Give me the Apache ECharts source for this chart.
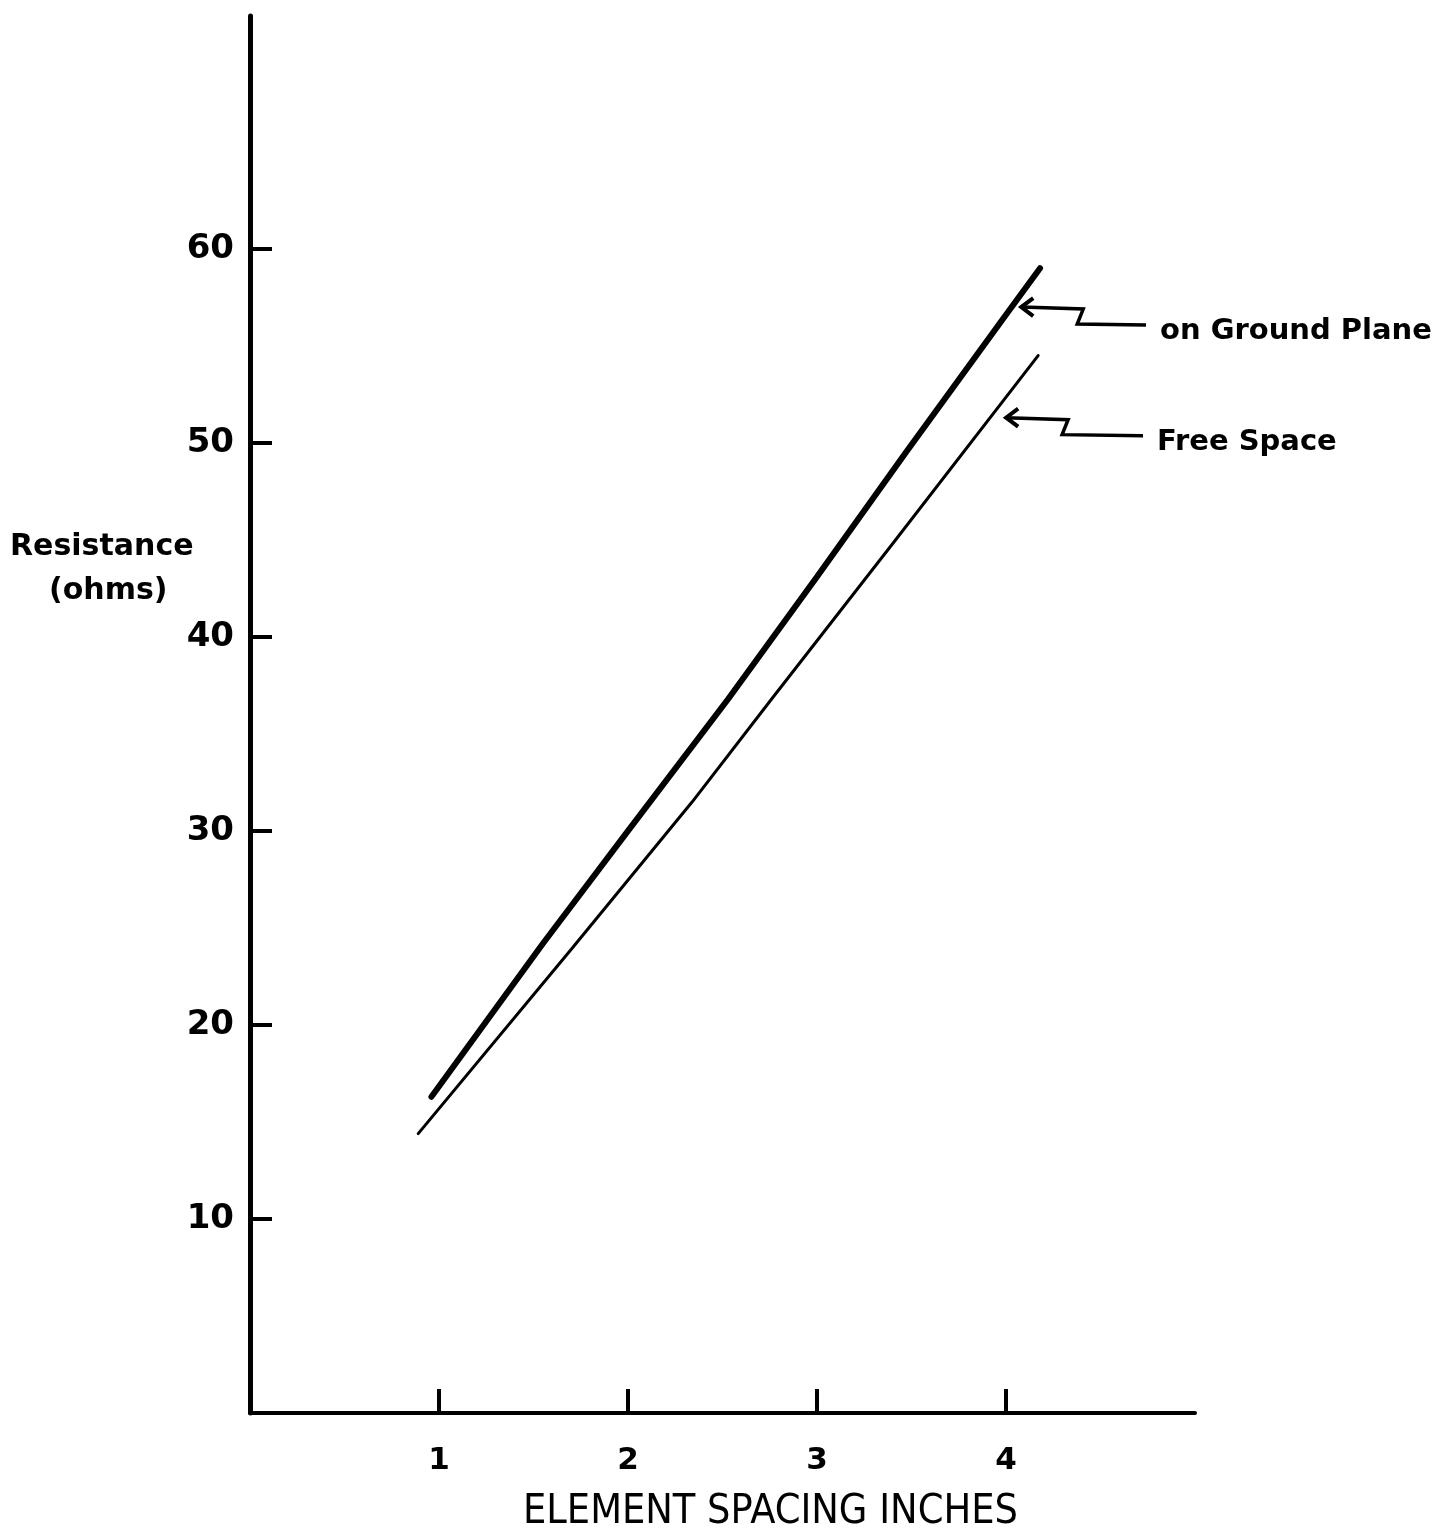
<!DOCTYPE html>
<html>
<head>
<meta charset="utf-8">
<script src="https://cdn.jsdelivr.net/npm/echarts@6/dist/echarts.min.js"></script>
<style>
html,body{margin:0;padding:0;background:#fff;}
#chart{width:1441px;height:1536px;}
</style>
</head>
<body>
<div id="chart"></div>
<script>
// Data
var groundX = [0.96, 1.55, 2.0, 2.53, 3.0, 3.47, 4.0, 4.18];
var groundY = [16.3, 24.2, 30.0, 36.8, 43.1, 49.5, 56.6, 59.0];
var freeX = [0.89, 1.70, 2.34, 2.76, 3.4, 4.17];
var freeY = [14.4, 23.9, 31.5, 36.8, 44.8, 54.5];
var yTicks = [10, 20, 30, 40, 50, 60];
var xTicks = [1, 2, 3, 4];
var seriesNames = ['on Ground Plane', 'Free Space'];
var arrowTips = [[4.07, 57.0], [3.99, 51.3]];

function pairs(xs, ys) { return xs.map(function (x, i) { return [x, ys[i]]; }); }

var FONT = 'DejaVu Sans, Noto Sans, sans-serif';
var chart = echarts.init(document.getElementById('chart'));
chart.setOption({
  backgroundColor: '#fff',
  animation: false,
  grid: { left: 250, right: 246, top: 16, bottom: 123 },
  xAxis: {
    type: 'value', min: 0, max: 5,
    axisLine: { show: true, lineStyle: { color: '#000', width: 4 } },
    axisTick: { show: true, inside: true, length: 24, customValues: xTicks, lineStyle: { color: '#000', width: 4 } },
    axisLabel: { customValues: xTicks, margin: 32, color: '#000', fontSize: 31, fontWeight: 'bold', fontFamily: FONT },
    splitLine: { show: false }
  },
  yAxis: {
    type: 'value', min: 0, max: 72,
    axisLine: { show: true, lineStyle: { color: '#000', width: 5 } },
    axisTick: { show: true, inside: true, length: 22, customValues: yTicks, lineStyle: { color: '#000', width: 4 } },
    axisLabel: { customValues: yTicks, margin: 16, color: '#000', fontSize: 34, fontWeight: 'bold', fontFamily: FONT },
    splitLine: { show: false }
  },
  series: [
    { name: seriesNames[0], type: 'line', data: pairs(groundX, groundY), showSymbol: false, symbol: 'none',
      lineStyle: { color: '#000', width: 6, cap: 'round' } },
    { name: seriesNames[1], type: 'line', data: pairs(freeX, freeY), showSymbol: false, symbol: 'none',
      lineStyle: { color: '#000', width: 3, cap: 'round' } }
  ]
});

function arrowGraphic(tip, text, textLeft) {
  var p = chart.convertToPixel({ gridIndex: 0 }, tip);
  var x = p[0], y = p[1];
  var lineEnd = textLeft - 14;
  return [
    { type: 'polyline', shape: { points: [[x + 2, y], [x + 64, y + 2], [x + 58, y + 17], [lineEnd, y + 18]] },
      style: { stroke: '#000', lineWidth: 3.5, fill: null, lineJoin: 'miter' } },
    { type: 'polyline', shape: { points: [[x + 14, y - 9], [x + 2, y], [x + 14, y + 9]] },
      style: { stroke: '#000', lineWidth: 4, fill: null } },
    { type: 'text', left: textLeft, top: y + 10, style: { text: text, fill: '#000', font: 'bold 29px ' + FONT, textVerticalAlign: 'middle' } }
  ];
}

var g = [];
g = g.concat(arrowGraphic(arrowTips[0], seriesNames[0], 1160));
g = g.concat(arrowGraphic(arrowTips[1], seriesNames[1], 1157));
g.push({ type: 'text', left: 10, top: 532, style: { text: 'Resistance', fill: '#000', font: 'bold 30px ' + FONT } });
g.push({ type: 'text', left: 49, top: 576, style: { text: '(ohms)', fill: '#000', font: 'bold 30px ' + FONT } });
g.push({ type: 'text', left: 523, top: 1492, style: { text: 'ELEMENT SPACING INCHES', fill: '#000', font: '41px DejaVu Sans Condensed, Liberation Sans Narrow, ' + FONT } });
chart.setOption({ graphic: g });
</script>
</body>
</html>
